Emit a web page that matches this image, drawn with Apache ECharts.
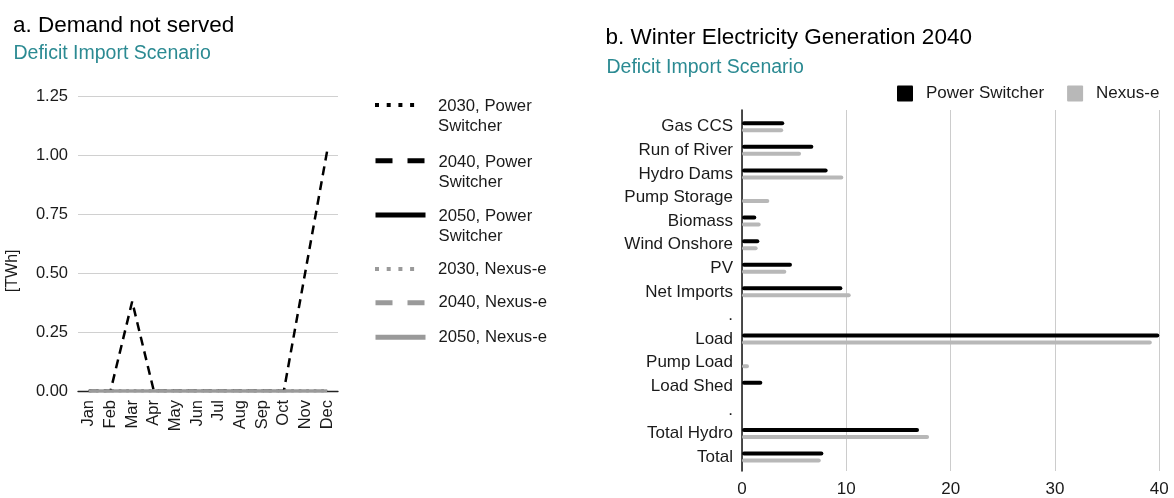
<!DOCTYPE html>
<html>
<head>
<meta charset="utf-8">
<script src="https://cdn.jsdelivr.net/npm/echarts@6/dist/echarts.min.js"></script>
<style>
html,body{margin:0;padding:0;background:#fff;}
#c{width:1174px;height:498px;}
</style>
</head>
<body>
<div id="c"></div>
<script>
// ---------- Panel a: Demand not served ----------
const months = ['Jan','Feb','Mar','Apr','May','Jun','Jul','Aug','Sep','Oct','Nov','Dec'];
const yTicksA = [0, 0.25, 0.5, 0.75, 1.0, 1.25];
const ps2030 = [0,0,0,0,0,0,0,0,0,0,0,0];
const ps2040 = [0,0,0.38,0,0,0,0,0,0,0,0.51,1.02];
const ps2050 = [0,0,0,0,0,0,0,0,0,0,0,0];
const nx2030 = [0,0,0,0,0,0,0,0,0,0,0,0];
const nx2040 = [0,0,0,0,0,0,0,0,0,0,0,0];
const nx2050 = [0,0,0,0,0,0,0,0,0,0,0,0];
const lineNames = ['2030, Power Switcher','2040, Power Switcher','2050, Power Switcher','2030, Nexus-e','2040, Nexus-e','2050, Nexus-e'];

// ---------- Panel b: Winter Electricity Generation 2040 ----------
const techs = ['Gas CCS','Run of River','Hydro Dams','Pump Storage','Biomass','Wind Onshore','PV','Net Imports','.','Load','Pump Load','Load Shed','.','Total Hydro','Total'];
const powerSwitcher = [4.05, 6.84, 8.21, 0, 1.37, 1.66, 4.79, 9.62, null, 40.0, 0, 1.95, null, 16.97, 7.8];
const nexusE        = [3.95, 5.66, 9.71, 2.62, 1.79, 1.5, 4.25, 10.42, null, 39.28, 0.67, 0, null, 17.93, 7.55];
const xTicksB = [0, 10, 20, 30, 40];

const FONT = '"Liberation Sans", Arial, sans-serif';
const TXT = '#1a1a1a';
const TEAL = '#2b8a92';
const BLACK = '#000000';
const GREY_LINE = '#9a9a9a';
const GREY_BAR = '#b8b8b8';

const chart = echarts.init(document.getElementById('c'), null, {renderer:'canvas'});

const lineDefs = [
  {data: ps2030, color: BLACK, type: [2.5, 5]},
  {data: ps2040, color: BLACK, type: [9, 6]},
  {data: ps2050, color: BLACK, type: 'solid'},
  {data: nx2030, color: GREY_LINE, type: [2.5, 5]},
  {data: nx2040, color: GREY_LINE, type: [9, 6]},
  {data: nx2050, color: GREY_LINE, type: 'solid'}
];
const legendDash = [
  [4,7.7,4,7.7,4,7.7,4,20],
  [17,15],
  'solid',
  [4,7.7,4,7.7,4,7.7,4,20],
  [17,15],
  'solid'
];
const legendWidth = [4,5,5,4,5,5];
const legendCenters = [105, 160.7, 215, 269, 302.7, 337.3];

const legends = lineNames.map((n, i) => {
  const two = i < 3;
  return {
    data: [n],
    orient: 'vertical',
    left: 373,
    top: two ? legendCenters[i] - 31.5 : legendCenters[i] - 10,
    padding: 0,
    itemWidth: 50,
    itemHeight: 14,
    selectedMode: false,
    itemStyle: {opacity: 0},
    lineStyle: {width: legendWidth[i], type: legendDash[i], cap: 'butt'},
    formatter: two
      ? (nm => '{s| }\n{a|' + nm.replace(' Switcher', '') + '}\n{a|Switcher}')
      : (nm => '{a|' + nm + '}'),
    textStyle: {
      fontFamily: FONT, fontSize: 16.7, color: TXT, lineHeight: 20,
      rich: {
        s: {fontSize: 2, lineHeight: 23, height: 23, padding: [0, 0, 0, 8]},
        a: {fontFamily: FONT, fontSize: 16.7, color: TXT, lineHeight: 20, padding: [0, 0, 0, 8]}
      }
    }
  };
});

legends.push({
  data: ['Power Switcher', 'Nexus-e'],
  left: 897,
  top: 83.5,
  padding: 0,
  itemWidth: 16,
  itemHeight: 16,
  itemGap: 23,
  selectedMode: false,
  icon: 'path://M1,0 L15,0 Q16,0 16,1 L16,15 Q16,16 15,16 L1,16 Q0,16 0,15 L0,1 Q0,0 1,0 Z',
  textStyle: {fontFamily: FONT, fontSize: 17, color: TXT, lineHeight: 20, padding: [0,0,0,8]}
});

const option = {
  animation: false,
  backgroundColor: '#ffffff',
  textStyle: {fontFamily: FONT},
  title: [
    {text: 'a. Demand not served', left: 13, top: 12.5, padding: 0,
     textStyle: {fontFamily: FONT, fontSize: 22.5, fontWeight: 'normal', color: '#000', lineHeight: 26}},
    {text: 'Deficit Import Scenario', left: 13.5, top: 42, padding: 0,
     textStyle: {fontFamily: FONT, fontSize: 19.5, fontWeight: 'normal', color: TEAL, lineHeight: 24}},
    {text: 'b. Winter Electricity Generation 2040', left: 605.5, top: 25, padding: 0,
     textStyle: {fontFamily: FONT, fontSize: 22.5, fontWeight: 'normal', color: '#000', lineHeight: 26}},
    {text: 'Deficit Import Scenario', left: 606.5, top: 56, padding: 0,
     textStyle: {fontFamily: FONT, fontSize: 19.5, fontWeight: 'normal', color: TEAL, lineHeight: 24}}
  ],
  legend: legends,
  grid: [
    {left: 78, top: 96.7, width: 260, height: 294.3, containLabel: false},
    {left: 742, top: 110, width: 417.3, height: 363, containLabel: false},
    {left: 742, top: 114.9, width: 417.3, height: 353.9, containLabel: false}
  ],
  xAxis: [
    {
      type: 'category', gridIndex: 0, data: months, boundaryGap: true,
      axisLine: {show: true, lineStyle: {color: '#222', width: 1.3}},
      axisTick: {show: false},
      axisLabel: {rotate: 90, margin: 9, fontSize: 16.5, color: TXT, fontFamily: FONT, interval: 0},
      splitLine: {show: false}
    },
    {
      type: 'value', gridIndex: 1, min: xTicksB[0], max: xTicksB[xTicksB.length-1], interval: xTicksB[1]-xTicksB[0],
      axisLine: {show: false}, axisTick: {show: false},
      axisLabel: {margin: 10, fontSize: 17, color: TXT, fontFamily: FONT},
      splitLine: {show: true, lineStyle: {color: '#cccccc', width: 1}}
    },
    {
      type: 'value', gridIndex: 2, min: xTicksB[0], max: xTicksB[xTicksB.length-1], show: false
    }
  ],
  yAxis: [
    {
      type: 'value', gridIndex: 0, min: yTicksA[0], max: yTicksA[yTicksA.length-1], interval: yTicksA[1]-yTicksA[0],
      axisLine: {show: false}, axisTick: {show: false},
      axisLabel: {margin: 10, fontSize: 16.5, color: TXT, fontFamily: FONT, formatter: v => v.toFixed(2)},
      splitLine: {show: true, lineStyle: {color: '#d0d0d0', width: 1.2}},
      name: '[TWh]', nameLocation: 'middle', nameGap: 57,
      nameTextStyle: {fontSize: 16, color: TXT, fontFamily: FONT, padding: [0, 54, 0, 0]}
    },
    {
      type: 'value', gridIndex: 1, min: 0, max: 1,
      axisLine: {show: true, onZero: false, lineStyle: {color: '#222', width: 1.6}},
      axisTick: {show: false}, axisLabel: {show: false}, splitLine: {show: false}
    },
    {
      type: 'category', gridIndex: 2, data: techs, inverse: true, boundaryGap: true,
      axisLine: {show: false}, axisTick: {show: false},
      axisLabel: {margin: 9, fontSize: 17, color: TXT, fontFamily: FONT, interval: 0},
      splitLine: {show: false}
    }
  ],
  series: [
    ...lineDefs.map((d, i) => ({
      name: lineNames[i], type: 'line', xAxisIndex: 0, yAxisIndex: 0,
      data: d.data, symbol: 'none', showSymbol: false, silent: true,
      color: d.color,
      lineStyle: {color: d.color, width: 2.5, type: d.type, cap: 'butt'}
    })),
    {
      name: 'Power Switcher', type: 'bar', xAxisIndex: 2, yAxisIndex: 2,
      data: powerSwitcher, barWidth: 4, barGap: '75%', color: BLACK,
      itemStyle: {color: BLACK, borderRadius: 2}, silent: true
    },
    {
      name: 'Nexus-e', type: 'bar', xAxisIndex: 2, yAxisIndex: 2,
      data: nexusE, barWidth: 4, barGap: '75%', color: GREY_BAR,
      itemStyle: {color: GREY_BAR, borderRadius: 2}, silent: true
    }
  ]
};
chart.setOption(option);
</script>
</body>
</html>
